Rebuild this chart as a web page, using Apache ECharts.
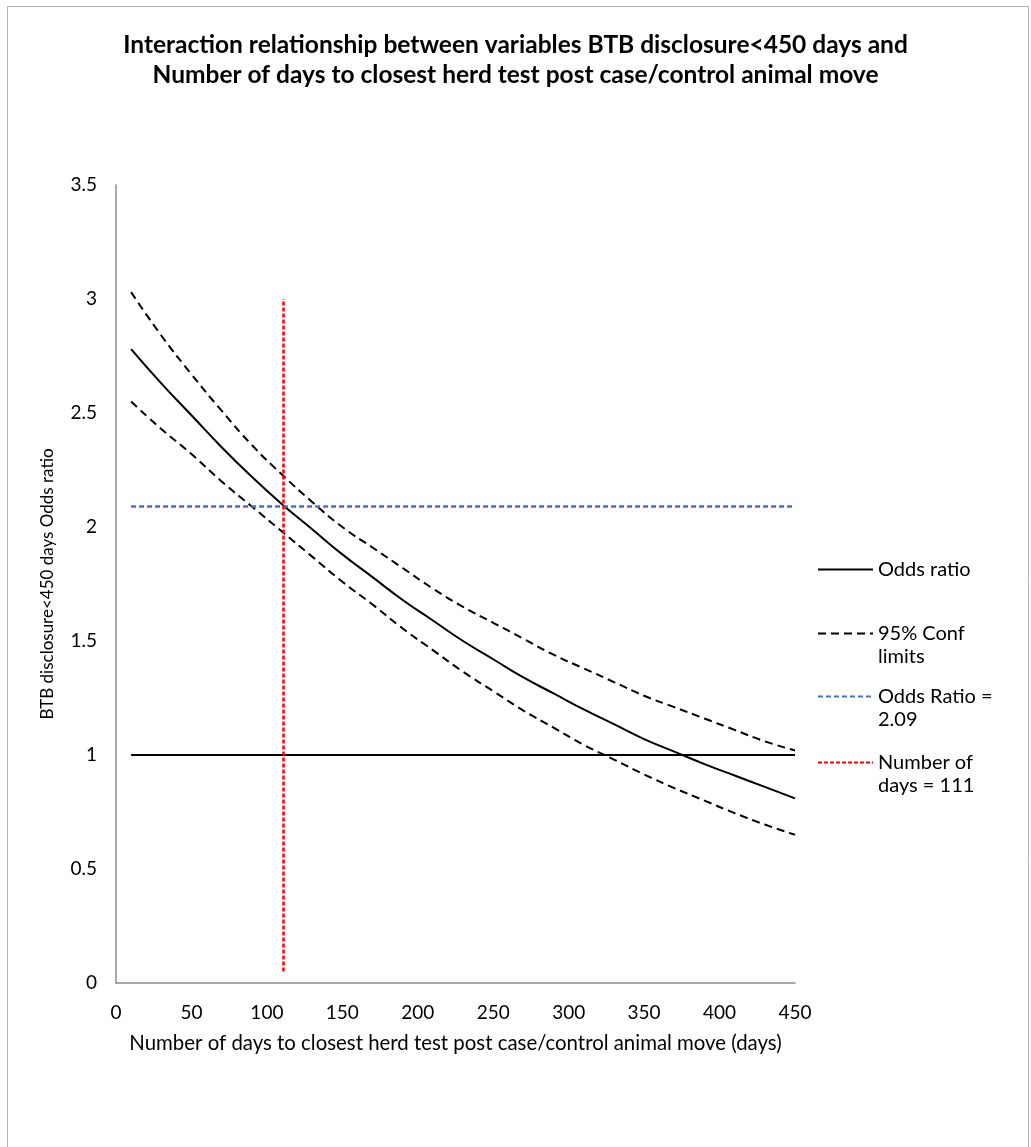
<!DOCTYPE html>
<html>
<head>
<meta charset="utf-8">
<title>BTB disclosure interaction</title>
<script src="https://cdn.jsdelivr.net/npm/echarts@6/dist/echarts.min.js"></script>
<style>
  html, body { margin: 0; padding: 0; background: #ffffff; }
  #chart { width: 1031px; height: 1147px; }
</style>
</head>
<body>
<div id="chart"></div>
<script>
// Days to closest herd test after the animal move
var days = [10, 30, 50, 70, 90, 110, 130, 150, 170, 190, 210, 230, 250, 270, 290, 310, 330, 350, 370, 390, 410, 430, 450];
// Fitted odds ratio for BTB disclosure<450 days
var oddsRatio = [2.78, 2.63, 2.49, 2.35, 2.22, 2.10, 1.99, 1.88, 1.78, 1.68, 1.59, 1.50, 1.42, 1.34, 1.27, 1.20, 1.135, 1.07, 1.015, 0.96, 0.91, 0.86, 0.81];
// 95% confidence limits
var upperLimit = [3.03, 2.84, 2.67, 2.51, 2.36, 2.23, 2.11, 2.00, 1.91, 1.82, 1.73, 1.65, 1.58, 1.51, 1.44, 1.38, 1.32, 1.26, 1.21, 1.16, 1.11, 1.06, 1.02];
var lowerLimit = [2.55, 2.43, 2.32, 2.20, 2.09, 1.98, 1.87, 1.76, 1.66, 1.555, 1.46, 1.365, 1.28, 1.195, 1.12, 1.045, 0.98, 0.915, 0.855, 0.80, 0.745, 0.695, 0.65];
// Reference lines
var nullLineX = [10, 450];
var nullLineY = [1, 1];
var orLineX = [10, 450];
var orLineY = [2.09, 2.09];
var dayLineX = [111, 111];
var dayLineY = [0.05, 3];
// Axis ticks
var xTicks = { min: 0, max: 450, step: 50 };
var yTicks = { min: 0, max: 3.5, step: 0.5 };

function pairs(xs, ys) {
  return xs.map(function (x, i) { return [x, ys[i]]; });
}

var FONT = 'Lato';
var chart = echarts.init(document.getElementById('chart'), null, { renderer: 'canvas' });

// Wrapped legend labels: a leading blank line keeps the first text line level with the key
var legendLabels = {
  'Odds ratio': 'Odds ratio',
  '95% Conf limits': '\n95% Conf\nlimits',
  'Odds Ratio = 2.09': '\nOdds Ratio =\n2.09',
  'Number of days = 111': '\nNumber of\ndays = 111'
};

function legendBlock(name, top) {
  return {
    data: [name],
    orient: 'vertical',
    left: 817,
    top: top,
    padding: 0,
    itemWidth: 55,
    itemHeight: 14,
    itemGap: 0,
    selectedMode: false,
    itemStyle: { opacity: 0, borderWidth: 0 },
    formatter: function (n) { return legendLabels[n] || n; },
    textStyle: {
      fontFamily: FONT,
      fontSize: 20,
      color: '#000000',
      lineHeight: 23
    }
  };
}

var option = {
  animation: false,
  backgroundColor: '#ffffff',
  title: {
    text: 'Interaction relationship between variables BTB disclosure<450 days and\nNumber of days to closest herd test post case/control animal move',
    left: 'center',
    top: 30,
    padding: 0,
    textStyle: {
      fontFamily: FONT,
      fontSize: 24.5,
      fontWeight: 'bold',
      color: '#000000',
      lineHeight: 30
    }
  },
  graphic: [{
    type: 'rect',
    shape: { x: 7.5, y: 6.5, width: 1021, height: 1160 },
    style: { fill: null, stroke: '#b3b3b3', lineWidth: 1 },
    silent: true
  }],
  legend: [
    legendBlock('Odds ratio', 558),
    legendBlock('95% Conf limits', 599),
    legendBlock('Odds Ratio = 2.09', 662),
    legendBlock('Number of days = 111', 728)
  ],
  grid: { left: 116, top: 185, width: 679, height: 798, containLabel: false },
  xAxis: {
    type: 'value',
    min: xTicks.min,
    max: xTicks.max,
    interval: xTicks.step,
    name: 'Number of days to closest herd test post case/control animal move (days)',
    nameLocation: 'middle',
    nameGap: 50,
    nameTextStyle: { fontFamily: FONT, fontSize: 20.4, color: '#000000' },
    axisLine: { show: true, lineStyle: { color: '#8c8c8c', width: 1.5 } },
    axisTick: { show: false },
    splitLine: { show: false },
    axisLabel: { fontFamily: FONT, fontSize: 19, color: '#000000', margin: 20 }
  },
  yAxis: {
    type: 'value',
    min: yTicks.min,
    max: yTicks.max,
    interval: yTicks.step,
    name: 'BTB disclosure<450 days Odds ratio',
    nameLocation: 'middle',
    nameGap: 60,
    nameTextStyle: { fontFamily: FONT, fontSize: 17, color: '#000000' },
    axisLine: { show: true, lineStyle: { color: '#8c8c8c', width: 1.5 } },
    axisTick: { show: false },
    splitLine: { show: false },
    axisLabel: { fontFamily: FONT, fontSize: 19, color: '#000000', margin: 19 }
  },
  series: [
    {
      name: 'Null line',
      type: 'line',
      data: pairs(nullLineX, nullLineY),
      symbol: 'none',
      lineStyle: { color: '#000000', width: 2 },
      silent: true,
      z: 2
    },
    {
      name: 'Odds ratio',
      type: 'line',
      data: pairs(days, oddsRatio),
      symbol: 'none',
      smooth: true,
      itemStyle: { color: '#000000' },
      lineStyle: { color: '#000000', width: 2 },
      z: 3
    },
    {
      name: '95% Conf limits',
      type: 'line',
      data: pairs(days, upperLimit),
      symbol: 'none',
      smooth: true,
      itemStyle: { color: '#000000' },
      lineStyle: { color: '#000000', width: 2, type: [8, 5] },
      z: 3
    },
    {
      name: '95% Conf limits',
      type: 'line',
      data: pairs(days, lowerLimit),
      symbol: 'none',
      smooth: true,
      itemStyle: { color: '#000000' },
      lineStyle: { color: '#000000', width: 2, type: [8, 5] },
      z: 3
    },
    {
      name: 'Odds Ratio = 2.09',
      type: 'line',
      data: pairs(orLineX, orLineY),
      symbol: 'none',
      itemStyle: { color: '#4472C4' },
      lineStyle: { color: '#4472C4', width: 2.5, type: [5, 3] },
      z: 4
    },
    {
      name: 'Number of days = 111',
      type: 'line',
      data: pairs(dayLineX, dayLineY),
      symbol: 'none',
      itemStyle: { color: '#FF0000' },
      lineStyle: { color: '#FF0000', width: 2.5, type: [4, 2] },
      z: 5
    }
  ]
};

chart.setOption(option);
</script>
</body>
</html>
